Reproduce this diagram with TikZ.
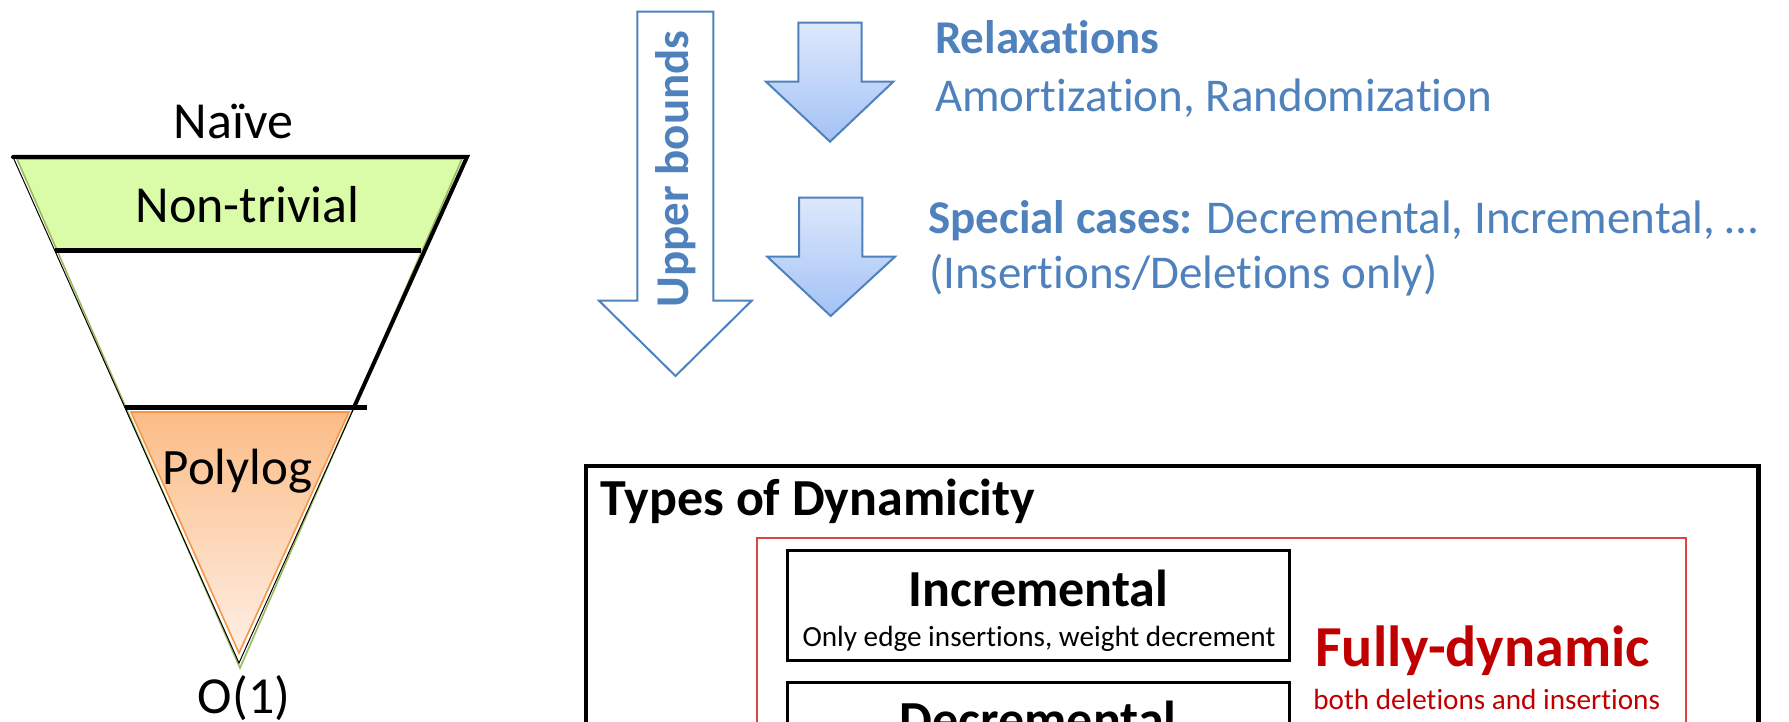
\documentclass[tikz,border=0pt]{standalone}
\usepackage{fontspec}
\setmainfont{Carlito}[Ligatures=NoCommon]
\definecolor{ublue}{HTML}{4F81BD}
\definecolor{arrtop}{HTML}{DDE8FC}
\definecolor{arrbot}{HTML}{A3C2F5}
\definecolor{bandgreen}{HTML}{DAFCA8}
\definecolor{edgegreen}{HTML}{9BBB59}
\definecolor{ortop}{HTML}{FBBC86}
\definecolor{orbot}{HTML}{FEEFE5}
\definecolor{oredge}{HTML}{F79646}
\definecolor{fdred}{HTML}{C00000}
\definecolor{frame}{HTML}{DD4444}
\begin{document}
\begin{tikzpicture}[x=0.5pt,y=-0.5pt,
  lbl/.style={inner sep=0pt, outer sep=0pt},
  tri/.style={lbl, font=\fontsize{26}{30}\selectfont},
  bluetxt/.style={lbl, text=ublue, font=\fontsize{23.5}{28}\selectfont, anchor=base west},
  bigarrow/.style={draw=ublue, line width=1pt, line join=miter},
  fillarrow/.style={bigarrow, top color=arrtop, bottom color=arrbot},
  boxline/.style={line width=1.5pt},
]
\useasboundingbox (0,0) rectangle (1789,722);
\clip (0,0) rectangle (1789,722);

% --- funnel of running times ---
\fill[bandgreen] (17,159) -- (462,159) -- (421,250) -- (57,250) -- cycle;
\shade[top color=ortop, bottom color=orbot, draw=oredge, line width=0.8pt]
  (131,412) -- (349,412) -- (239,653) -- cycle;
\draw[edgegreen, line width=0.8pt] (17,159) -- (462,159) -- (240,668) -- cycle;
\draw[black, line width=0.5pt] (13,157) -- (467,157) -- (239,663) -- cycle;
\draw[black, line width=2pt, line cap=round] (13,157) -- (467,157) -- (355,405);
\draw[black, line width=2.5pt] (55,250) -- (421,250);
\draw[black, line width=2.3pt] (125,407.5) -- (367,407.5);

\node[tri, anchor=base] (naive) at (233.5,139) {Naïve};
\node[tri, anchor=base] (nontriv) at (247.5,222.5) {Non-trivial};
\node[tri, anchor=base, font=\fontsize{25.5}{30}\selectfont] (polylog) at (237.5,484) {Polylog};
\node[tri, anchor=base] (const) at (244,713) {O(1)};

% --- upper bounds arrow ---
\draw[bigarrow, fill=white] (637.3,11.7) -- (713.3,11.7) -- (713.3,300.7) -- (751.7,300.7)
  -- (675.5,376) -- (599,300.7) -- (637.3,300.7) -- cycle;
\node[lbl, rotate=90, anchor=base, text=ublue, font=\bfseries\fontsize{23.5}{28}\selectfont]
  (ub) at (688.3,169) {Upper bounds};

% --- relaxation arrows ---
\shade[fillarrow] (798.3,22.7) -- (861.7,22.7) -- (861.7,81.7) -- (893.3,81.7)
  -- (830,141.7) -- (766,81.7) -- (798.3,81.7) -- cycle;
\shade[fillarrow] (799,197.7) -- (862.3,197.7) -- (862.3,256.7) -- (895,256.7)
  -- (830.7,316) -- (767.3,256.7) -- (799,256.7) -- cycle;

\node[bluetxt] (relax) at (935,54) {\bfseries Relaxations};
\node[bluetxt] (amort) at (935,111.7) {Amortization, Randomization};
\node[bluetxt] (special) at (928.3,233.3) {\textbf{Special cases:} Decremental, Incremental, …};
\node[bluetxt] (insdel) at (929,288.3) {(Insertions/Deletions only)};

% --- types of dynamicity panel ---
\draw[black, line width=2.3pt] (586,466) rectangle (1758.5,790);
\node[lbl, anchor=base west, font=\bfseries\fontsize{26}{30}\selectfont] (types) at (600.7,515) {Types of Dynamicity};
\draw[frame, line width=0.8pt] (756.7,537.7) rectangle (1686,790);
\draw[boxline] (787.3,550) rectangle (1289.3,660.7);
\draw[boxline] (787.3,682.3) rectangle (1289.3,820);
\node[lbl, anchor=base, font=\bfseries\fontsize{26}{30}\selectfont] (incr) at (1038.3,606) {Incremental};
\node[lbl, anchor=base, font=\fontsize{14.6}{18}\selectfont] (incrsub) at (1038.9,646.7) {Only edge insertions, weight decrement};
\node[lbl, anchor=base, font=\bfseries\fontsize{26}{30}\selectfont] (decr) at (1038.3,737) {Decremental};
\node[lbl, anchor=base, text=fdred, font=\bfseries\fontsize{29}{33}\selectfont] (fully) at (1482.5,666.7) {Fully-dynamic};
\node[lbl, anchor=base, text=fdred, font=\fontsize{14.6}{18}\selectfont] (fullysub) at (1486.7,709.3) {both deletions and insertions};
\end{tikzpicture}
\end{document}
